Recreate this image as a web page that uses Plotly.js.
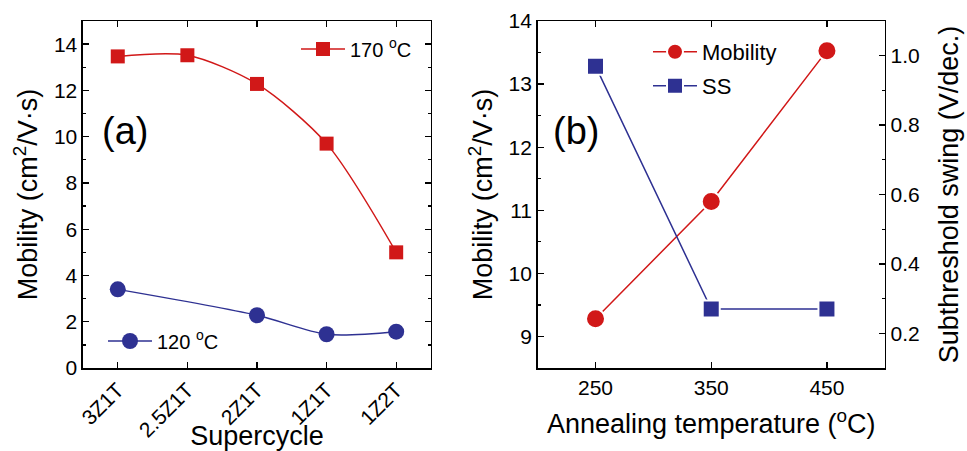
<!DOCTYPE html>
<html><head><meta charset="utf-8">
<script src="https://cdn.plot.ly/plotly-3.0.1.min.js"></script>
<style>html,body{margin:0;padding:0;background:#fff}#plot{width:967px;height:451px}</style>
</head><body><div id="plot"></div>
<script>
// Panel (a)
const supercycles = ['3Z1T','2.5Z1T','2Z1T','1Z1T','1Z2T'];
const mobility170 = [13.47, 13.52, 12.28, 9.70, 5.00];
const supercycles120 = ['3Z1T','2Z1T','1Z1T','1Z2T'];
const mobility120 = [3.40, 2.28, 1.46, 1.57];
// Panel (b)
const annealTemps = [250, 350, 450];
const mobilityB = [9.28, 11.14, 13.53];
const subSwing = [0.97, 0.27, 0.27];
const ssTicks = [0.2, 0.4, 0.6, 0.8, 1.0];

const RED = '#d11818', BLUE = '#2e3192';
const FONT = 'Liberation Sans, Arial, sans-serif';

const traces = [
  {x: supercycles, y: mobility170, xaxis:'x', yaxis:'y', mode:'lines+markers', name:'170 <sup>o</sup>C',
   line:{color:RED, width:1.5, shape:'spline', smoothing:0.8}, marker:{symbol:'square', size:14, color:RED}, legend:'legend'},
  {x: supercycles120, y: mobility120, xaxis:'x', yaxis:'y', mode:'lines+markers', name:'120 <sup>o</sup>C',
   line:{color:BLUE, width:1.5, shape:'spline', smoothing:0.8}, marker:{symbol:'circle', size:16, color:BLUE}, legend:'legend2'},
  {x: annealTemps, y: mobilityB, xaxis:'x2', yaxis:'y2', mode:'lines+markers', name:'Mobility',
   line:{color:RED, width:1.5}, marker:{symbol:'circle', size:19, color:RED, line:{color:'#fff', width:2}}, legend:'legend3'},
  {x: annealTemps, y: subSwing, xaxis:'x2', yaxis:'y3', mode:'lines+markers', name:'SS',
   line:{color:BLUE, width:1.5}, marker:{symbol:'square', size:17, color:BLUE, line:{color:'#fff', width:2}}, legend:'legend4'}
];

const axCommon = {showline:true, linecolor:'#000', linewidth:1.5, ticks:'inside', ticklen:6, tickwidth:1.3,
  tickcolor:'#000', showgrid:false, zeroline:false, automargin:false, tickfont:{family:FONT, size:21, color:'#000'}};

const legCommon = {bgcolor:'rgba(0,0,0,0)', borderwidth:0, font:{family:FONT, size:20, color:'#000'},
  xanchor:'left', yanchor:'middle', itemwidth:44, tracegroupgap:0};
const TITLE_FONT = {family:FONT, size:27, color:'#000'};

const layout = {
  width:967, height:451, margin:{l:0, r:0, t:0, b:0}, paper_bgcolor:'#fff', plot_bgcolor:'#fff',
  font:{family:FONT, color:'#000'}, showlegend:true,
  xaxis: Object.assign({}, axCommon, {domain:[0.0858,0.4457], anchor:'y', type:'category',
    categoryorder:'array', categoryarray:supercycles, range:[-0.5,4.5], mirror:'ticks', tickangle:-45,
    tickfont:{family:FONT, size:21, color:'#000'},
    title:{text:'Supercycle', font:TITLE_FONT, standoff:0}}),
  yaxis: Object.assign({}, axCommon, {domain:[0.184,0.9534], anchor:'x', range:[0,15], tick0:0, dtick:2, mirror:'ticks',
    minor:{dtick:1, ticks:'inside', ticklen:3, tickcolor:'#000', tickwidth:1.3},
    title:{text:'Mobility (cm<sup>2</sup>/V·s)', font:TITLE_FONT, standoff:8}}),
  xaxis2: Object.assign({}, axCommon, {domain:[0.556,0.915], anchor:'y2', range:[200,500], tickvals:annealTemps,
    mirror:'ticks',
    title:{text:'Annealing temperature (<sup>o</sup>C)', font:TITLE_FONT, standoff:16}}),
  yaxis2: Object.assign({}, axCommon, {domain:[0.184,0.9534], anchor:'x2', range:[8.5,14], tick0:9, dtick:1,
    minor:{dtick:0.5, ticks:'inside', ticklen:3, tickcolor:'#000', tickwidth:1.3},
    title:{text:'Mobility (cm<sup>2</sup>/V·s)', font:TITLE_FONT, standoff:8}}),
  yaxis3: Object.assign({}, axCommon, {domain:[0.184,0.9534], anchor:'x2', overlaying:'y2', side:'right',
    range:[0.1,1.1], tickvals:ssTicks, ticktext:ssTicks.map(v=>v.toFixed(1)),
    minor:{tickvals:[0.1,0.3,0.5,0.7,0.9,1.1], ticks:'inside', ticklen:3, tickcolor:'#000', tickwidth:1.3},
    title:{text:'Subthreshold swing (V/dec.)', font:TITLE_FONT, standoff:20}}),
  legend: Object.assign({}, legCommon, {x:296/967, y:1-49/451}),
  legend2: Object.assign({}, legCommon, {x:103/967, y:1-341/451}),
  legend3: Object.assign({}, legCommon, {x:648/967, y:1-52/451, font:{family:FONT, size:22, color:'#000'}}),
  legend4: Object.assign({}, legCommon, {x:648/967, y:1-86/451, font:{family:FONT, size:22, color:'#000'}}),
  annotations: [
    {text:'(a)', xref:'paper', yref:'paper', x:125/967, y:1-131/451, showarrow:false,
     font:{family:FONT, size:38, color:'#000'}, xanchor:'center', yanchor:'middle'},
    {text:'(b)', xref:'paper', yref:'paper', x:576/967, y:1-131/451, showarrow:false,
     font:{family:FONT, size:38, color:'#000'}, xanchor:'center', yanchor:'middle'}
  ]
};

Plotly.newPlot('plot', traces, layout, {displayModeBar:false, staticPlot:true});
</script></body></html>
